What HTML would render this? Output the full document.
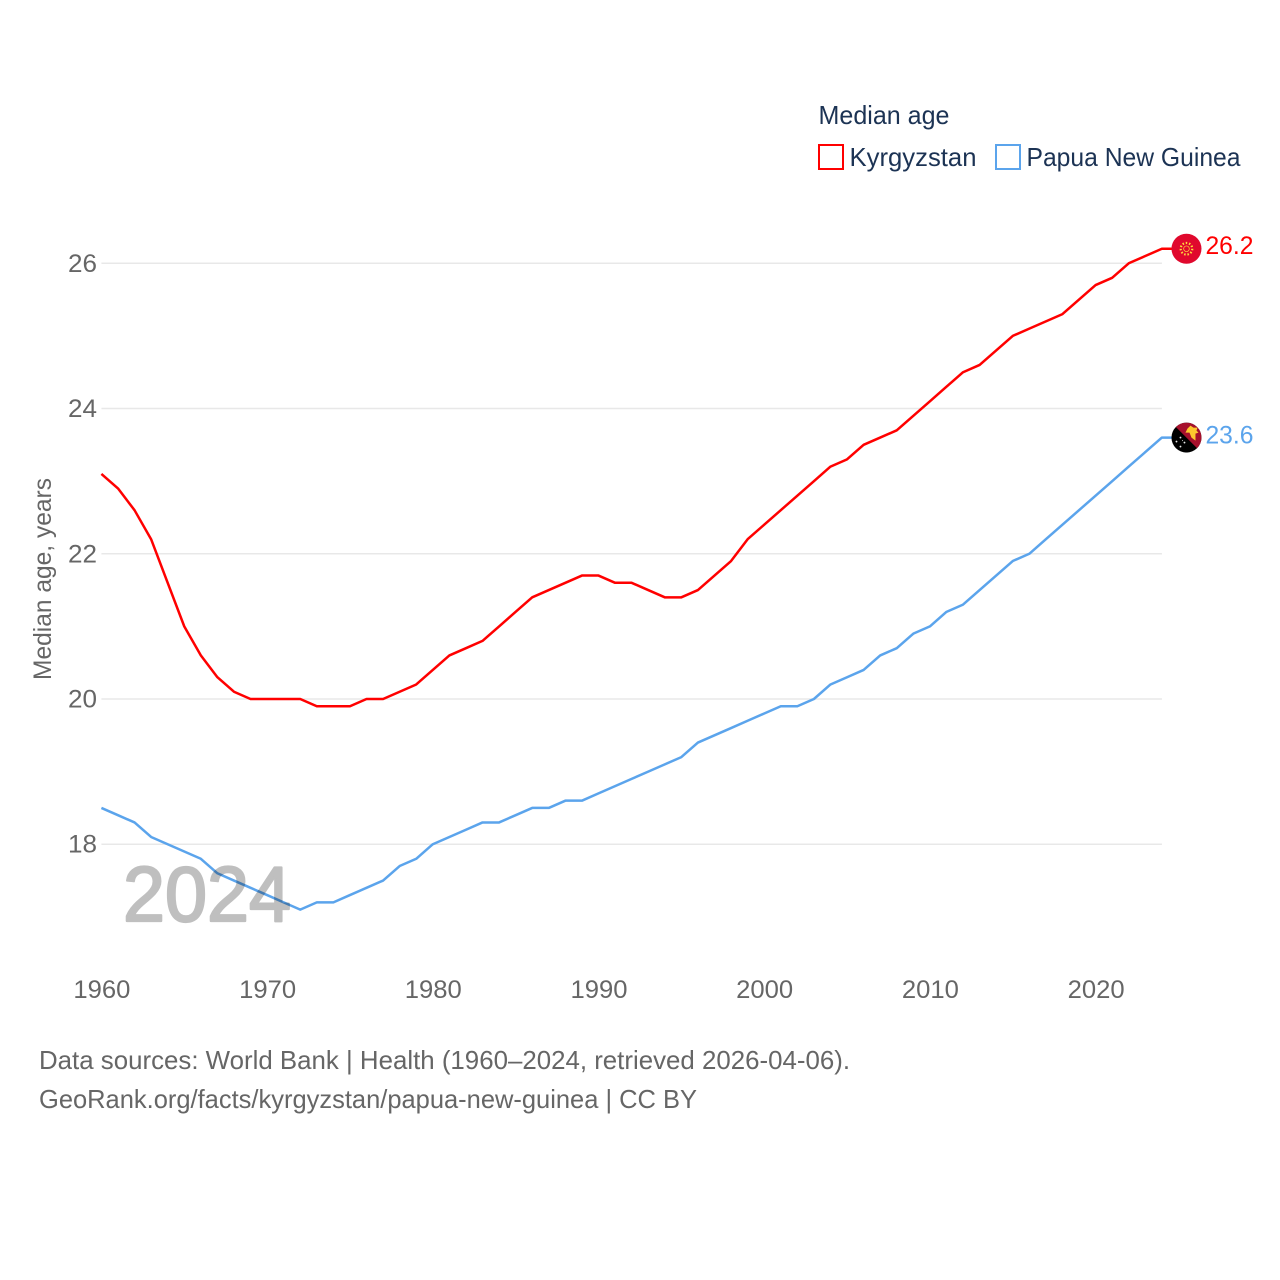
<!DOCTYPE html>
<html lang="en">
<head>
<meta charset="utf-8">
<title>Median age: Kyrgyzstan and Papua New Guinea</title>
<style>
html,body{margin:0;padding:0;background:#fff}
svg{display:block}
text{font-family:"Liberation Sans",sans-serif}
.axis{fill:#666;font-size:25px}
.leg{fill:#1c3354;font-size:26px}
.foot{fill:#666;font-size:26px}
</style>
</head>
<body>
<svg id="chart" xmlns="http://www.w3.org/2000/svg" width="1280" height="1280" viewBox="0 0 1280 1280">
  <rect width="1280" height="1280" fill="#fff"/>
  <g id="grid"></g>
  <g id="yticks"></g>
  <g id="xticks"></g>
  <text class="axis" transform="translate(51,680) rotate(-90)" textLength="202" lengthAdjust="spacingAndGlyphs">Median age, years</text>
  <g id="series"></g>
  <text x="123" y="921" font-size="78" fill="#bfbfbf" stroke="#bfbfbf" stroke-width="2.2" stroke-linejoin="round" style="mix-blend-mode:multiply" textLength="168" lengthAdjust="spacingAndGlyphs">2024</text>

  <g>
    <text class="leg" x="818.5" y="124" textLength="131" lengthAdjust="spacingAndGlyphs">Median age</text>
    <rect x="819" y="145" width="24" height="24" fill="none" stroke="#ff0000" stroke-width="2"/>
    <text class="leg" x="849.5" y="166" textLength="127" lengthAdjust="spacingAndGlyphs">Kyrgyzstan</text>
    <rect x="996" y="145" width="24" height="24" fill="none" stroke="#5ba4ec" stroke-width="2"/>
    <text class="leg" x="1026.5" y="166" textLength="214" lengthAdjust="spacingAndGlyphs">Papua New Guinea</text>
  </g>

  <g id="flag-kg">
    <circle cx="0" cy="0" r="15" fill="#e0082d"/>
    <circle cx="0" cy="0" r="5.8" fill="none" stroke="#ffd83d" stroke-width="2.2" stroke-dasharray="1.5 1.8"/>
    <circle cx="0" cy="0" r="2.8" fill="none" stroke="#ffd83d" stroke-width="0.7"/>
  </g>
  <g id="flag-pg">
    <clipPath id="pg-clip"><circle cx="0" cy="0" r="15"/></clipPath>
    <g clip-path="url(#pg-clip)">
      <rect x="-15" y="-15" width="30" height="30" fill="#000"/>
      <polygon points="-15,-15 15,-15 15,15" fill="#a6102c"/>
      <polygon points="-1,-5 1,-9 4,-12 7,-10 11,-10 10,-7 12,-5 9,-4 9,3 5,0 3,-5" fill="#fcc72e"/>
      <g fill="#e8e8e8">
        <circle cx="-6" cy="0" r="0.9"/>
        <circle cx="-10" cy="4" r="0.9"/>
        <circle cx="-2" cy="5" r="0.9"/>
        <circle cx="-6" cy="9" r="0.9"/>
        <circle cx="-4" cy="3" r="0.5"/>
      </g>
    </g>
  </g>
  <g id="endlabels"></g>

  <g>
    <text class="foot" x="39" y="1069" textLength="811" lengthAdjust="spacingAndGlyphs">Data sources: World Bank | Health (1960–2024, retrieved 2026-04-06).</text>
    <text class="foot" x="39" y="1108" textLength="658" lengthAdjust="spacingAndGlyphs">GeoRank.org/facts/kyrgyzstan/papua-new-guinea | CC BY</text>
  </g>
</svg>
<script>
const firstYear = 1960;
const kyrgyzstan = [23.1,22.9,22.6,22.2,21.6,21.0,20.6,20.3,20.1,20.0,20.0,20.0,20.0,19.9,19.9,19.9,20.0,20.0,20.1,20.2,20.4,20.6,20.7,20.8,21.0,21.2,21.4,21.5,21.6,21.7,21.7,21.6,21.6,21.5,21.4,21.4,21.5,21.7,21.9,22.2,22.4,22.6,22.8,23.0,23.2,23.3,23.5,23.6,23.7,23.9,24.1,24.3,24.5,24.6,24.8,25.0,25.1,25.2,25.3,25.5,25.7,25.8,26.0,26.1,26.2];
const papuaNewGuinea = [18.5,18.4,18.3,18.1,18.0,17.9,17.8,17.6,17.5,17.4,17.3,17.2,17.1,17.2,17.2,17.3,17.4,17.5,17.7,17.8,18.0,18.1,18.2,18.3,18.3,18.4,18.5,18.5,18.6,18.6,18.7,18.8,18.9,19.0,19.1,19.2,19.4,19.5,19.6,19.7,19.8,19.9,19.9,20.0,20.2,20.3,20.4,20.6,20.7,20.9,21.0,21.2,21.3,21.5,21.7,21.9,22.0,22.2,22.4,22.6,22.8,23.0,23.2,23.4,23.6];
const yTickValues = [18,20,22,24,26];
const xTickValues = [1960,1970,1980,1990,2000,2010,2020];

const NS = 'http://www.w3.org/2000/svg';
function xScale(year){ return 101.4 + (year - 1960) * 16.57; }
function yScale(v){ return 699 - (v - 20) * 72.62; }
function make(tag, parent){
  const el = document.createElementNS(NS, tag);
  parent.appendChild(el);
  return el;
}

const gridG = document.getElementById('grid');
const yG = document.getElementById('yticks');
const xG = document.getElementById('xticks');
const seriesG = document.getElementById('series');
const labelG = document.getElementById('endlabels');

yTickValues.forEach(function(v){
  const line = make('line', gridG);
  
  
  line.setAttribute('x1', 101.4);
  line.setAttribute('x2', 1161.9);
  line.setAttribute('y1', yScale(v));
  line.setAttribute('y2', yScale(v));
  line.setAttribute('stroke', '#e8e8e8');
  line.setAttribute('stroke-width', 1.5);

  const t = make('text', yG);
  
  
  t.setAttribute('class', 'axis');
  t.setAttribute('x', 68);
  t.setAttribute('y', yScale(v) + 8.5);
  t.setAttribute('textLength', 29);
  t.setAttribute('lengthAdjust', 'spacingAndGlyphs');
  t.textContent = String(v);
});

xTickValues.forEach(function(y){
  const t = make('text', xG);
  
  
  t.setAttribute('class', 'axis');
  t.setAttribute('x', xScale(y) - 28);
  t.setAttribute('y', 998);
  t.setAttribute('textLength', 57);
  t.setAttribute('lengthAdjust', 'spacingAndGlyphs');
  t.textContent = String(y);
});

function drawSeries(values, color, name){
  const lastX = xScale(firstYear + values.length - 1);
  const lastY = yScale(values[values.length - 1]);
  let d = values.map(function(v, i){
    return (i ? 'L' : 'M') + xScale(firstYear + i).toFixed(2) + ' ' + yScale(v).toFixed(2);
  }).join(' ');
  d += ' L' + (lastX + 12) + ' ' + lastY.toFixed(2);
  const p = make('path', seriesG);
  
  
  p.setAttribute('d', d);
  p.setAttribute('fill', 'none');
  p.setAttribute('stroke', color);
  p.setAttribute('stroke-width', 2.5);
  p.setAttribute('stroke-linejoin', 'round');
  return [lastX, lastY];
}

const endKg = drawSeries(kyrgyzstan, '#ff0000', 'line-kyrgyzstan');
const endPg = drawSeries(papuaNewGuinea, '#5ba4ec', 'line-papua-new-guinea');

document.getElementById('flag-kg').setAttribute('transform', 'translate(' + (endKg[0] + 24.6) + ',' + endKg[1] + ')');
document.getElementById('flag-pg').setAttribute('transform', 'translate(' + (endPg[0] + 24.6) + ',' + endPg[1] + ')');

const kgLabel = make('text', labelG);


kgLabel.setAttribute('x', endKg[0] + 43.6);
kgLabel.setAttribute('y', endKg[1] + 5);
kgLabel.setAttribute('fill', '#ff0000');
kgLabel.setAttribute('font-size', 25);
kgLabel.setAttribute('textLength', 48);
kgLabel.setAttribute('lengthAdjust', 'spacingAndGlyphs');
kgLabel.textContent = kyrgyzstan[kyrgyzstan.length - 1].toFixed(1);

const pgLabel = make('text', labelG);


pgLabel.setAttribute('x', endPg[0] + 43.6);
pgLabel.setAttribute('y', endPg[1] + 6);
pgLabel.setAttribute('fill', '#5ba4ec');
pgLabel.setAttribute('font-size', 25);
pgLabel.setAttribute('textLength', 48);
pgLabel.setAttribute('lengthAdjust', 'spacingAndGlyphs');
pgLabel.textContent = papuaNewGuinea[papuaNewGuinea.length - 1].toFixed(1);
</script>
</body>
</html>
